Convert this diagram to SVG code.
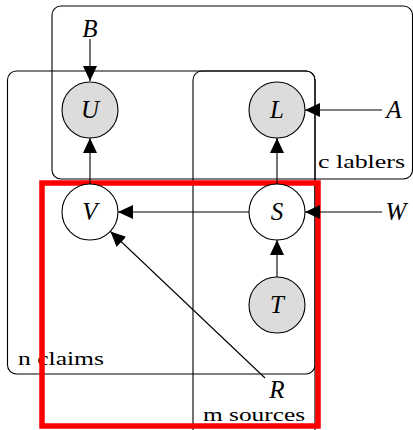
<svg xmlns="http://www.w3.org/2000/svg" width="413" height="430" viewBox="0 0 413 430">
<style>
.plate{fill:none;stroke:#000;stroke-width:1.1}
.node{stroke:#000;stroke-width:1.1}
.obs{fill:#dcdcdc}
.lat{fill:#fff}
.edge{stroke:#000;stroke-width:1.1;fill:none;marker-end:url(#ah)}
</style>
<defs>
<marker id="ah" markerUnits="userSpaceOnUse" markerWidth="16" markerHeight="14" refX="15" refY="7" orient="auto">
<path d="M0,0 L15,7 L0,14 z" fill="#000"/>
</marker>
</defs>
<rect width="413" height="430" fill="#fff"/>
<g id="plates">
<rect id="plate-c" class="plate" x="52" y="6" width="360.5" height="173" rx="9"/>
<rect id="plate-n" class="plate" x="7.5" y="71" width="307.5" height="303" rx="9"/>
<path id="plate-m" class="plate" d="M193,440 V80 A9,9 0 0 1 202,71 H306 A9,9 0 0 1 315,80 V440"/>
<g font-family="Liberation Serif, DejaVu Serif, serif" font-size="19">
<text x="318" y="168" textLength="87" lengthAdjust="spacingAndGlyphs">c lablers</text>
<text x="18" y="365" textLength="86" lengthAdjust="spacingAndGlyphs">n claims</text>
<text x="203" y="421" textLength="102" lengthAdjust="spacingAndGlyphs">m sources</text>
</g>
</g>
<rect id="highlight" x="42" y="183" width="276" height="243" fill="none" stroke="#ff0000" stroke-width="5.5"/>
<g font-family="Liberation Serif, DejaVu Serif, serif" font-style="italic" font-size="25" text-anchor="middle">
<g id="U"><circle class="node obs" cx="90" cy="110" r="28"/><text x="90" y="118">U</text></g>
<g id="L"><circle class="node obs" cx="277" cy="110" r="28"/><text x="277" y="118">L</text></g>
<g id="V"><circle class="node lat" cx="90" cy="212" r="28"/><text x="90" y="220">V</text></g>
<g id="S"><circle class="node lat" cx="277" cy="212" r="28"/><text x="277" y="220">S</text></g>
<g id="T"><circle class="node obs" cx="277" cy="305" r="28"/><text x="277" y="313">T</text></g>
<g id="B"><text x="90" y="37">B</text></g>
<g id="A"><text x="394" y="118">A</text></g>
<g id="W"><text x="396" y="220">W</text></g>
<g id="R"><text x="277" y="398">R</text></g>
</g>
<g id="connectors">
<line class="edge" x1="90" y1="39" x2="90" y2="81"/>
<line class="edge" x1="90" y1="184" x2="90" y2="138"/>
<line class="edge" x1="277" y1="184" x2="277" y2="138"/>
<line class="edge" x1="382" y1="110" x2="305" y2="110"/>
<line class="edge" x1="249" y1="212" x2="118" y2="212"/>
<line class="edge" x1="382" y1="212" x2="305" y2="212"/>
<line class="edge" x1="277" y1="277" x2="277" y2="240"/>
<line class="edge" x1="265" y1="378" x2="110.5" y2="231.5"/>
</g>
</svg>
